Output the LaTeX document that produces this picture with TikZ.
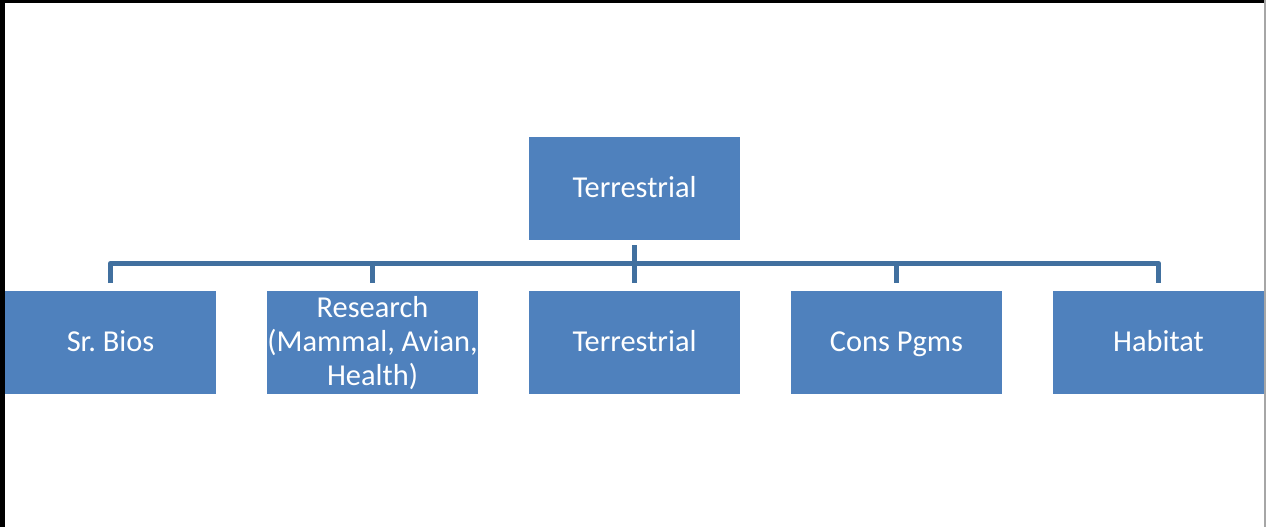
\documentclass[tikz,border=0pt]{standalone}
\usepackage{fontspec}
\setmainfont{Carlito}
\definecolor{boxblue}{HTML}{4F81BD}
\definecolor{lineblue}{HTML}{41709F}
\newcommand\bxstrut{\rule[-4.9pt]{0pt}{24pt}}
\begin{document}
\begin{tikzpicture}[x=0.75pt,y=-0.75pt,
  box/.style={rectangle, fill=boxblue, draw=none, minimum width=158.25pt, minimum height=77.25pt,
    inner sep=0pt, text=white, align=center, font=\fontsize{22.8}{25.5}\selectfont\frenchspacing},
  conn/.style={draw=lineblue, line width=3.75pt, line join=round}]
\useasboundingbox (0,0) rectangle (1266,527);
\fill[white] (0,0) rectangle (1266,527);
% frame
\fill[black] (0,0) rectangle (1266,3.5);
\fill[black] (0,0) rectangle (4.5,527);
\draw[gray!70, line width=1.2pt] (1264.8,0) -- (1264.8,527);
% nodes
\node[box] (top) at (634.5,188.5) {\bxstrut Terrestrial};
\node[box] (t1) at (110.5,342) {\bxstrut Sr. Bios};
\node[box] (t2) at (372.5,342) {\bxstrut Research\\\bxstrut(Mammal, Avian,\\\bxstrut Health)};
\node[box] (t3) at (634.5,342) {\bxstrut Terrestrial};
\node[box] (t4) at (896.5,342) {\bxstrut Cons Pgms};
\node[box] (t5) at (1158.5,342) {\bxstrut Habitat};
% connectors
\draw[conn] ([yshift=-3.75pt]top.south) -- ([yshift=5.25pt]t3.north);
\draw[conn] ([yshift=5.25pt]t1.north) -- ([yshift=20.25pt]t1.north) -- ([yshift=20.25pt]t5.north) -- ([yshift=5.25pt]t5.north);
\draw[conn] ([yshift=20.25pt]t2.north) -- ([yshift=5.25pt]t2.north);
\draw[conn] ([yshift=20.25pt]t4.north) -- ([yshift=5.25pt]t4.north);
\end{tikzpicture}
\end{document}
